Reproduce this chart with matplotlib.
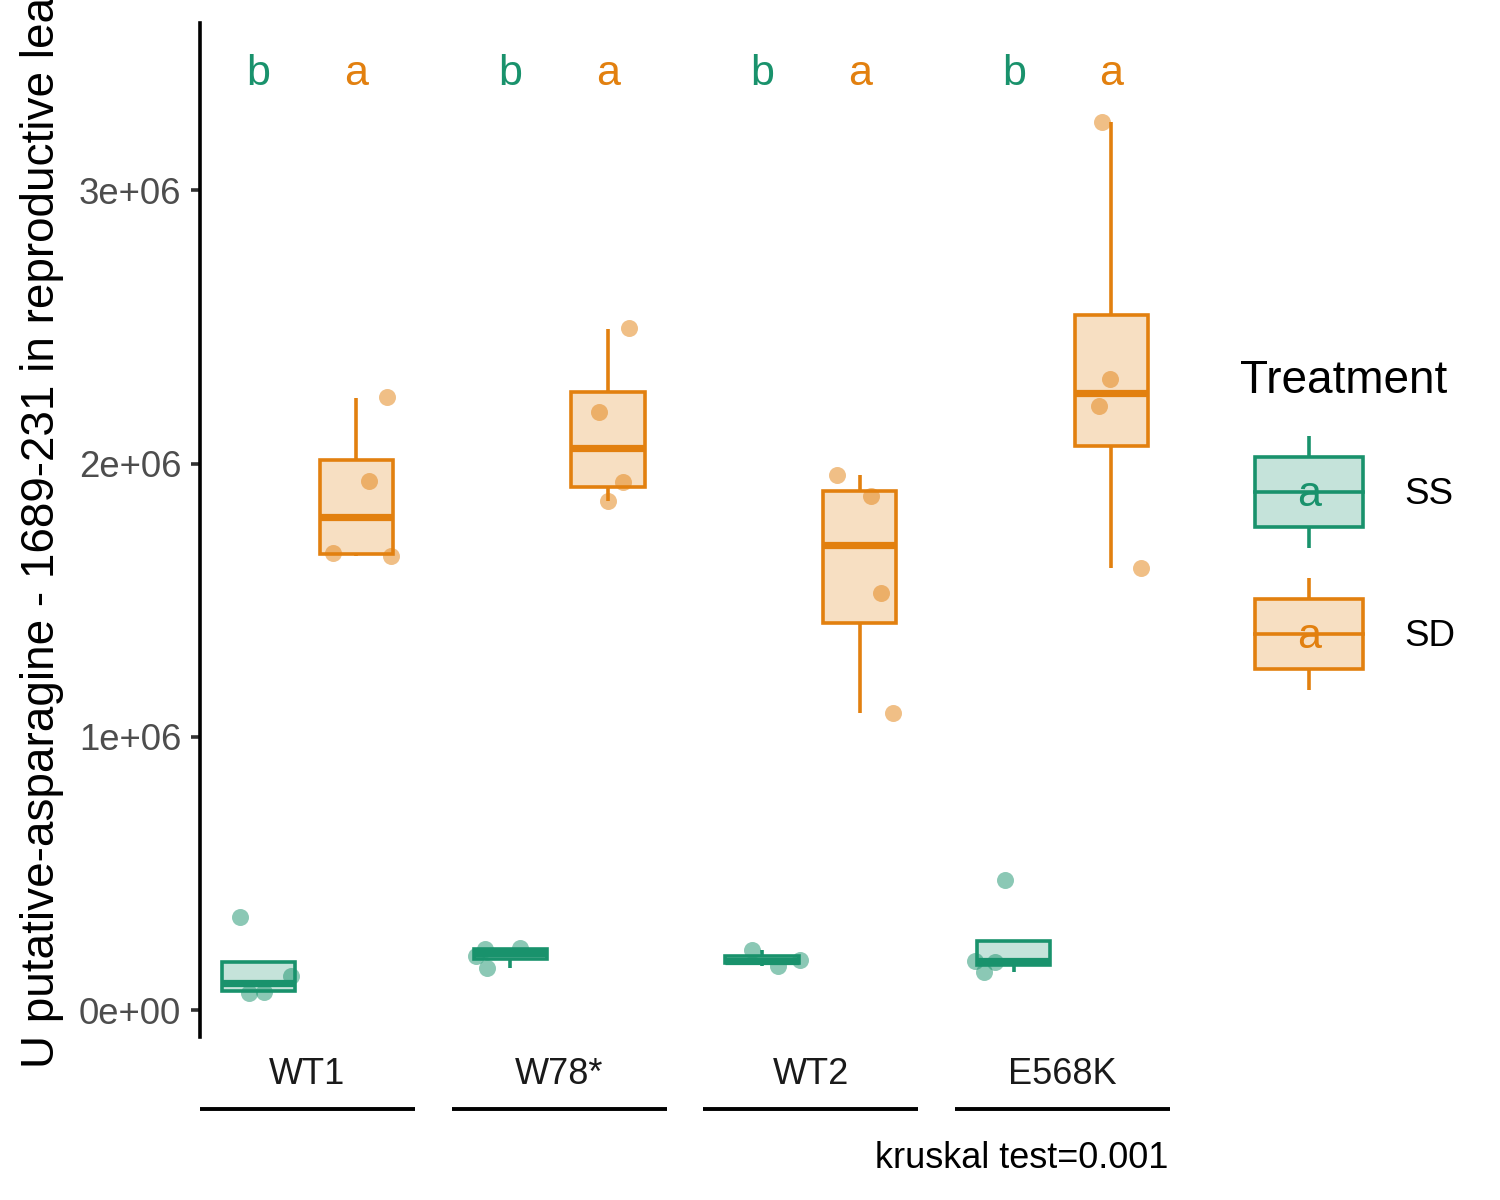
import numpy as np
import matplotlib
matplotlib.use("Agg")
import matplotlib.pyplot as plt
from matplotlib.patches import Rectangle
from matplotlib.transforms import blended_transform_factory

plt.rcParams['font.family'] = ['Liberation Sans', 'DejaVu Sans']

genotypes = ["WT1", "W78*", "WT2", "E568K"]
col_ss = "#19926C"
col_sd = "#E2800F"

# box statistics (units of 1e6)
ss_whislo = [0.065, 0.1548, 0.161, 0.138]
ss_q1 = [0.0706, 0.1878, 0.172, 0.1655]
ss_med = [0.0977, 0.2105, 0.180, 0.1776]
ss_q3 = [0.1768, 0.2231, 0.1975, 0.2543]
ss_whishi = [0.1768, 0.2258, 0.2196, 0.2543]

sd_whislo = [1.663, 1.864, 1.088, 1.6168]
sd_q1 = [1.671, 1.916, 1.416, 2.063]
sd_med = [1.8045, 2.059, 1.7035, 2.2603]
sd_q3 = [2.013, 2.262, 1.901, 2.5443]
sd_whishi = [2.241, 2.493, 1.958, 3.2515]

# individual samples (units of 1e6) and their jitter offsets
ss_vals = [[0.339, 0.0633, 0.067, 0.1255],
           [0.1988, 0.2222, 0.1548, 0.2258],
           [0.2196, 0.161, 0.183],
           [0.4758, 0.1805, 0.1746, 0.138]]
ss_jit = [[-0.19, -0.098, 0.058, 0.328],
          [-0.354, -0.262, -0.238, 0.096],
          [-0.105, 0.168, 0.39],
          [-0.095, -0.395, -0.19, -0.303]]
sd_vals = [[2.244, 1.937, 1.673, 1.661],
           [2.495, 2.188, 1.934, 1.864],
           [1.958, 1.882, 1.525, 1.088],
           [3.2515, 2.3086, 2.212, 1.6168]]
sd_jit = [[0.32, 0.132, -0.236, 0.361],
          [0.214, -0.093, 0.153, -0.001],
          [-0.236, 0.116, 0.218, 0.344],
          [-0.099, -0.014, -0.127, 0.30]]

sig_ss = ["b", "b", "b", "b"]
sig_sd = ["a", "a", "a", "a"]

ylab = "U putative-asparagine - 1689-231 in reproductive leaves"
caption = "kruskal test=0.001"

fig = plt.figure(figsize=(15, 12), dpi=100)
ax = fig.add_axes([200/1500, 1-1037/1200, 970/1500, (1037-23)/1200])

pw = 2.2
gap = 0.379
sc = 1e6

def mkstats(lo, q1, med, q3, hi):
    return [dict(whislo=a*sc, q1=b*sc, med=c*sc, q3=d*sc, whishi=e*sc, fliers=[])
            for a, b, c, d, e in zip(lo, q1, med, q3, hi)]

pos_ss = [i*(pw+gap)+0.6 for i in range(4)]
pos_sd = [i*(pw+gap)+1.6 for i in range(4)]

for stats, pos, col, vals, jit in [
        (mkstats(ss_whislo, ss_q1, ss_med, ss_q3, ss_whishi), pos_ss, col_ss, ss_vals, ss_jit),
        (mkstats(sd_whislo, sd_q1, sd_med, sd_q3, sd_whishi), pos_sd, col_sd, sd_vals, sd_jit)]:
    for p, v, j in zip(pos, vals, jit):
        ax.scatter(np.array(j)+p, np.array(v)*sc, s=150, color=col, alpha=0.5,
                   linewidths=0, zorder=2)
    bp = ax.bxp(stats, positions=pos, widths=0.75, patch_artist=True,
                showcaps=False, showfliers=False,
                boxprops=dict(facecolor=matplotlib.colors.to_rgba(col, 0.25),
                              edgecolor=col, linewidth=2.6),
                whiskerprops=dict(color=col, linewidth=2.6, solid_capstyle='butt'),
                medianprops=dict(color=col, linewidth=5.2, solid_capstyle='butt'),
                zorder=3)

for i in range(4):
    ax.text(pos_ss[i], 3.386*sc, sig_ss[i], color=col_ss, size=31, ha='center', va='baseline')
    ax.text(pos_sd[i], 3.386*sc, sig_sd[i], color=col_sd, size=31, ha='center', va='baseline')

ax.set_xlim(0, 4*pw+3*gap)
ax.set_ylim(-0.0988*sc, 3.613*sc)
ax.set_yticks([0, 1e6, 2e6, 3e6])
ax.set_yticklabels(["0e+00", "1e+06", "2e+06", "3e+06"])
ax.set_xticks([])
for s in ['top', 'right', 'bottom']:
    ax.spines[s].set_visible(False)
ax.spines['left'].set_linewidth(2.6)
ax.tick_params(axis='y', length=6.5, width=2.6, color='#333333', labelsize=26.3,
               labelcolor='#4D4D4D', pad=7)
ax.patch.set_alpha(0)

# facet labels at the bottom with lines under them
tr = blended_transform_factory(ax.transData, fig.transFigure)
for i, g in enumerate(genotypes):
    x0 = i*(pw+gap)
    ax.text(x0+pw/2, 1-1075/1200, g, transform=tr, ha='center', va='center',
            size=26, color='#1A1A1A')
    ax.plot([x0, x0+pw], [1-1109/1200]*2, transform=tr, color='black', lw=2.8,
            clip_on=False, solid_capstyle='butt')

fig.text(42/1500, 1-1068/1200, ylab, rotation=90, ha='center', va='bottom', size=33)
fig.text(1168/1500, 1-1158/1200, caption, ha='right', va='center', size=26)

# legend
lax = fig.add_axes([0, 0, 1, 1])
lax.set_xlim(0, 1500)
lax.set_ylim(1200, 0)
lax.axis('off')
lax.patch.set_alpha(0)
lax.text(1240, 381, "Treatment", size=33, ha='left', va='center')
for lab, col, yc in [("SS", col_ss, 492), ("SD", col_sd, 634)]:
    lax.add_patch(Rectangle((1255, yc-35), 108, 70,
                            facecolor=matplotlib.colors.to_rgba(col, 0.25),
                            edgecolor=col, linewidth=2.6))
    lax.plot([1255, 1363], [yc, yc], color=col, lw=2.6)
    lax.plot([1309, 1309], [yc-56, yc-35], color=col, lw=2.6, solid_capstyle='butt')
    lax.plot([1309, 1309], [yc+35, yc+56], color=col, lw=2.6, solid_capstyle='butt')
    lax.text(1309, yc+3, "a", color=col, size=31, ha='center', va='center')
    lax.text(1404, yc+3, lab, size=26.5, ha='left', va='center')

fig.savefig("out.png", dpi=100)
